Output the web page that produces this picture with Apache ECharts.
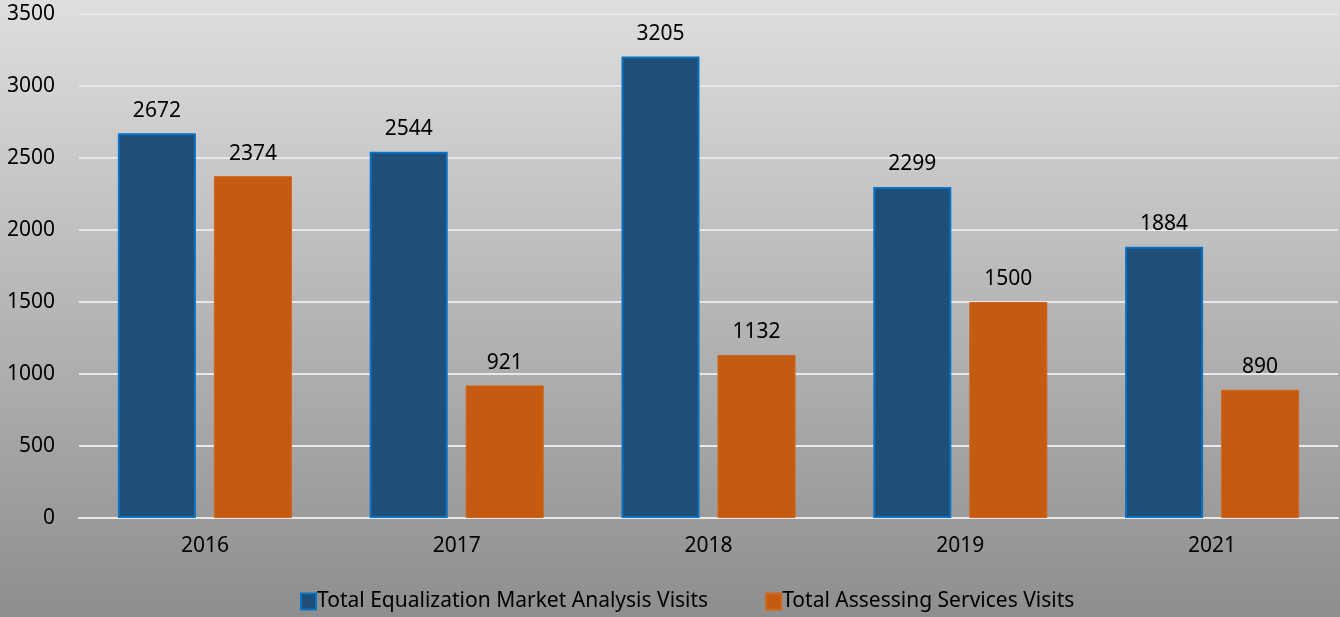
<!DOCTYPE html>
<html><head><meta charset="utf-8">
<script src="https://cdn.jsdelivr.net/npm/echarts@6/dist/echarts.min.js"></script>
<style>html,body{margin:0;padding:0;}#c{width:1340px;height:617px;}</style>
</head><body><div id="c"></div>
<script>
const categories = ['2016','2017','2018','2019','2021'];
const equalization = [2672, 2544, 3205, 2299, 1884];
const assessing = [2374, 921, 1132, 1500, 890];
const seriesNames = ['Total Equalization Market Analysis Visits','Total Assessing Services Visits'];
const font = 'Noto Sans';
const fs = 21;
const chart = echarts.init(document.getElementById('c'));
chart.setOption({
  backgroundColor: new echarts.graphic.LinearGradient(0,0,0,1,[{offset:0,color:'#DEDEDE'},{offset:1,color:'#8E8E8E'}]),
  animation:false,
  textStyle:{fontFamily:font},
  grid:{left:79,right:2,top:14,bottom:99,containLabel:false},
  legend:{
    bottom:0, left:295, itemGap:57, itemWidth:15, itemHeight:16, icon:'rect',
    textStyle:{fontFamily:font,fontSize:fs,color:'#000',padding:[0,0,0,-4]},
    data:[{name:seriesNames[0],itemStyle:{borderColor:'#0A72C4',borderWidth:2}},{name:seriesNames[1]}]
  },
  xAxis:{type:'category',data:categories,
    axisLine:{lineStyle:{color:'#E8E8EC',width:2}},
    axisTick:{show:false},
    axisLabel:{fontFamily:font,fontSize:fs,color:'#000',margin:18}},
  yAxis:{type:'value',min:0,max:3500,interval:500,
    axisLine:{show:false},axisTick:{show:false},
    splitLine:{lineStyle:{color:'#E8E8EC',width:2}},
    axisLabel:{fontFamily:font,fontSize:fs,color:'#000',margin:24,formatter:v=>String(v)}},
  series:[
    {name:seriesNames[0],type:'bar',data:equalization,barWidth:'31%',barGap:'23%',
     itemStyle:{color:'#1F4E79',borderColor:'#0A72C4',borderWidth:2},
     label:{show:true,position:'top',distance:12,fontFamily:font,fontSize:fs,color:'#000'}},
    {name:seriesNames[1],type:'bar',data:assessing,barWidth:'31%',
     itemStyle:{color:'#C55A11',borderColor:'#D0661C',borderWidth:1},
     label:{show:true,position:'top',distance:12,fontFamily:font,fontSize:fs,color:'#000'}}
  ]
});
</script></body></html>
